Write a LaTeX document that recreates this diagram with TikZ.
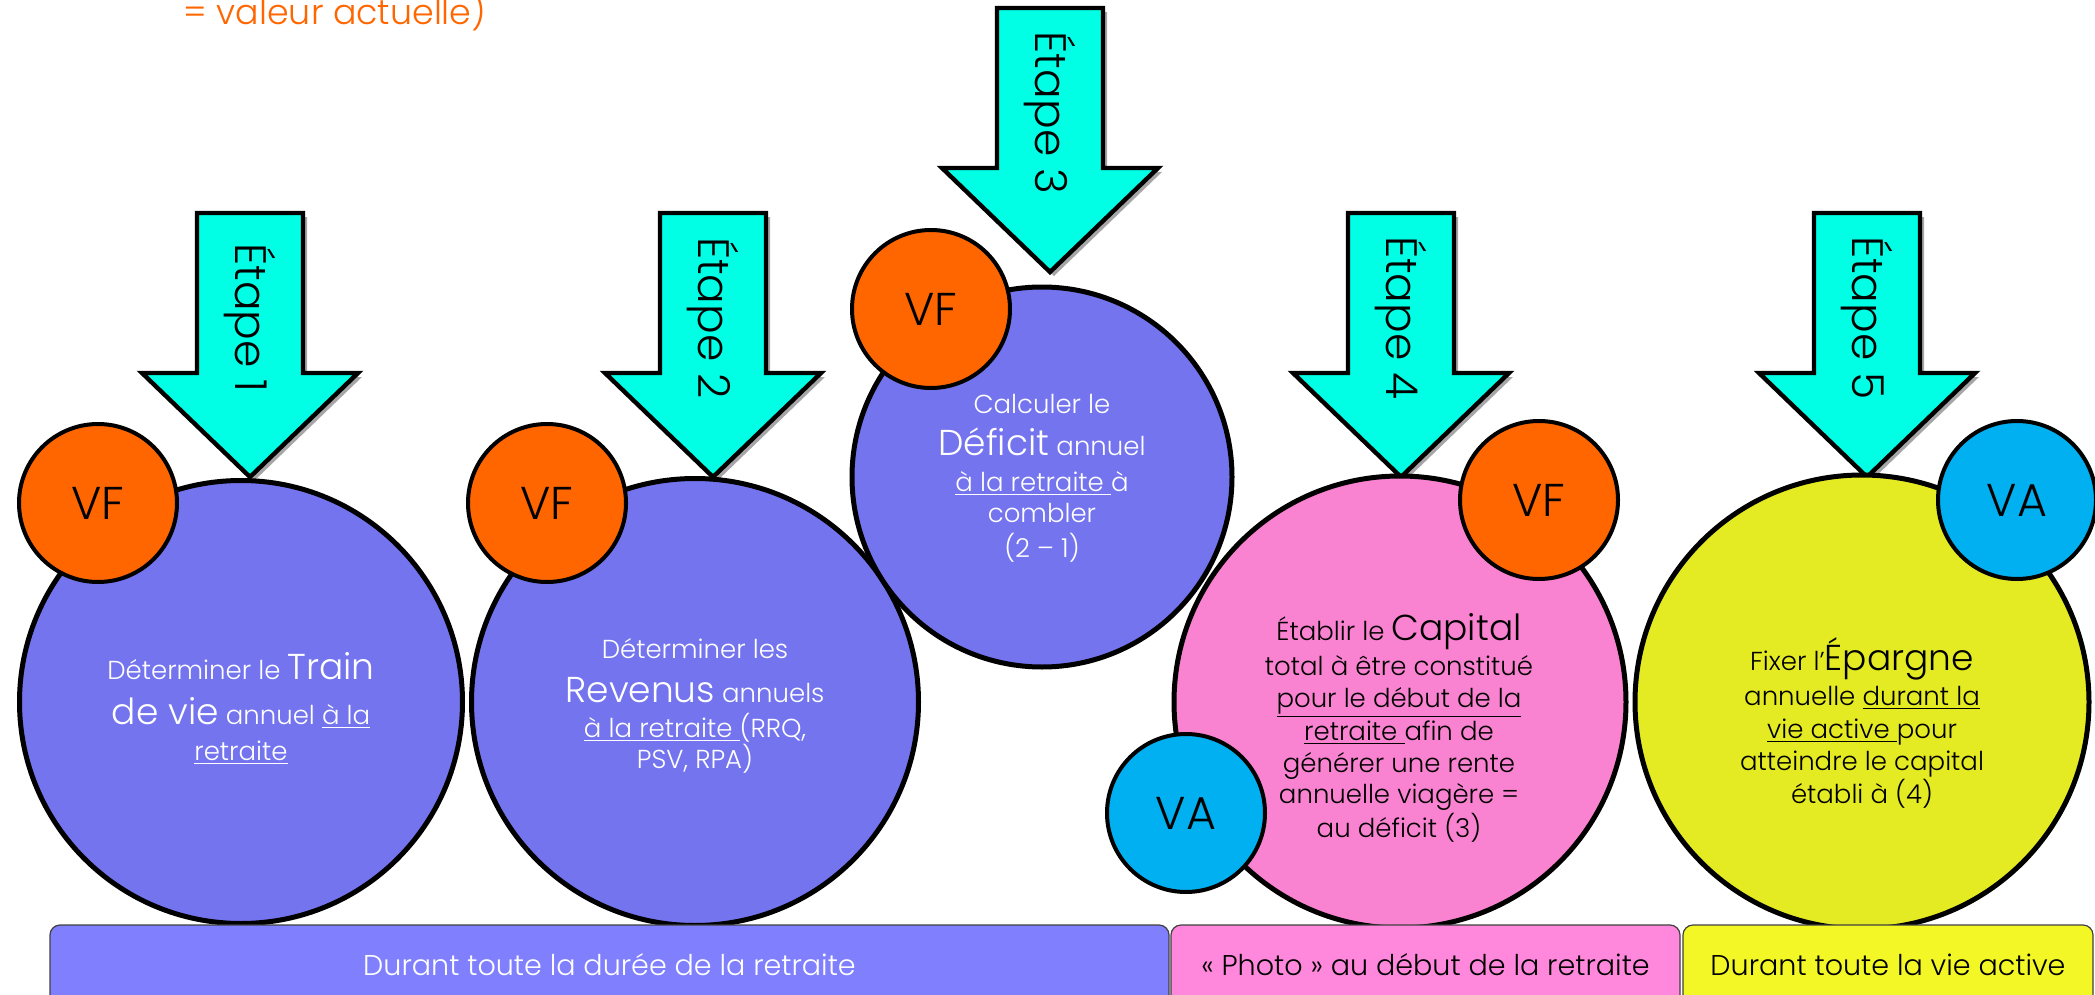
\documentclass[tikz,border=0pt]{standalone}
\usepackage{fontspec}
\setmainfont{Poppins}[UprightFont=* Light]
\definecolor{cblue}{HTML}{7474EE}
\definecolor{cbar1}{HTML}{8080FF}
\definecolor{corange}{HTML}{FF6600}
\definecolor{ccyan}{HTML}{00FFE5}
\definecolor{cpink}{HTML}{F982D1}
\definecolor{cbar2}{HTML}{FF88DD}
\definecolor{cyel}{HTML}{E5EB22}
\definecolor{cbar3}{HTML}{F2F725}
\definecolor{cva}{HTML}{00B0F0}
\tikzset{
 bigc/.style={circle, draw=black, line width=2.5pt, inner sep=0pt},
 tagc/.style={circle, draw=black, line width=2pt, inner sep=0pt, minimum size=79pt, font=\fontsize{23}{25}\selectfont},
 vf/.style={tagc, fill=corange},
 va/.style={tagc, fill=cva},
 ln/.style={anchor=base, inner sep=0pt, font=\fontsize{13}{15}\selectfont},
 lnw/.style={ln, text=white},
 arrowbox/.style={draw=black, line width=2.2pt, fill=ccyan, line join=miter},
 arrowshadow/.style={fill=black!35},
 steplabel/.style={rotate=-90, font=\fontsize{22}{24}\selectfont, inner sep=0pt},
 barbox/.style={draw=black!75, line width=0.6pt, rounded corners=5pt, inner sep=0pt, minimum height=42.5pt},
 bartext/.style={anchor=base, inner sep=0pt, font=\fontsize{14.3}{16}\selectfont},
}
\newcommand\BigF{\fontsize{18}{20}\selectfont}
\newcommand\StepArrow[4]{%
 \begin{scope}[shift={(#2,#3)}]
  \fill[arrowshadow] (-49,4) -- (57,4) -- (57,164) -- (112,164) -- (4,268) -- (-104,164) -- (-49,164) -- cycle;
  \draw[arrowbox] (-53,0) -- (53,0) -- (53,160) -- (108,160) -- (0,264) -- (-108,160) -- (-53,160) -- cycle;
  \node[steplabel] (#1) at (0,105) {#4};
 \end{scope}}
\begin{document}
\begin{tikzpicture}[x=0.5pt,y=-0.5pt]
\useasboundingbox (0,0) rectangle (2095,995);
\clip (0,0) rectangle (2095,995);

\node[anchor=base, inner sep=0pt, text=corange, font=\fontsize{17.4}{19}\selectfont] (top) at (335,25) {= valeur actuelle)};

\StepArrow{e1}{250}{213}{Étape 1}
\StepArrow{e2}{713}{213}{Étape 2}
\StepArrow{e3}{1050}{8}{Étape 3}
\StepArrow{e4}{1401}{213}{Étape 4}
\StepArrow{e5}{1867}{213}{Étape 5}

\node[bigc, fill=cblue, minimum size=221.5pt] (c1) at (241,702) {};
\node[bigc, fill=cblue, minimum size=223.5pt] (c2) at (695,702) {};
\node[bigc, fill=cpink, minimum size=226pt] (c4) at (1400,702) {};
\node[bigc, fill=cyel, minimum size=227pt] (c5) at (1862,702) {};
\node[bigc, fill=cblue, minimum size=190pt] (c3) at (1042,477) {};

\node[vf] (vf1) at (98,503) {VF};
\node[vf] (vf2) at (547,503) {VF};
\node[vf] (vf3) at (931,309) {VF};
\node[vf] (vf4) at (1539,500) {VF};
\node[va] (va4) at (1186,813) {VA};
\node[va] (va5) at (2017,500) {VA};

% circle 1
\node[lnw] (c1a) at (241,679) {Déterminer le {\BigF Train}};
\node[lnw] (c1b) at (241,724) {{\BigF de vie} annuel \underline{à la}};
\node[lnw] (c1c) at (241,760) {\underline{retraite}};
% circle 2
\node[lnw] (c2a) at (695,658) {Déterminer les};
\node[lnw] (c2b) at (695,702) {{\BigF Revenus} annuels};
\node[lnw] (c2c) at (695,737) {\underline{à la retraite }(RRQ,};
\node[lnw] (c2d) at (695,768) {PSV, RPA)};
% circle 3
\node[lnw] (c3a) at (1042,413) {Calculer le};
\node[lnw] (c3b) at (1042,455) {{\BigF Déficit} annuel};
\node[lnw] (c3c) at (1042,491) {\underline{à la retraite }à};
\node[lnw] (c3d) at (1042,522) {combler};
\node[lnw] (c3e) at (1042,557) {(2 – 1)};
% circle 4
\node[ln] (c4a) at (1399,640) {Établir le {\BigF Capital}};
\node[ln] (c4b) at (1399,675) {total à être constitué};
\node[ln] (c4c) at (1399,707) {\underline{pour le début de la}};
\node[ln] (c4d) at (1399,740) {\underline{retraite }afin de};
\node[ln] (c4e) at (1399,772) {générer une rente};
\node[ln] (c4f) at (1399,803) {annuelle viagère =};
\node[ln] (c4g) at (1399,837) {au déficit (3)};
% circle 5
\node[ln] (c5a) at (1862,670) {Fixer l’{\BigF Épargne}};
\node[ln] (c5b) at (1862,705) {annuelle \underline{durant la}};
\node[ln] (c5c) at (1862,738) {\underline{vie active }pour};
\node[ln] (c5d) at (1862,770) {atteindre le capital};
\node[ln] (c5e) at (1862,803) {établi à (4)};

% bars
\node[barbox, fill=cbar1, minimum width=559.5pt] (bar1) at (609.5,967.5) {};
\node[barbox, fill=cbar2, minimum width=254.5pt] (bar2) at (1425.5,967.5) {};
\node[barbox, fill=cbar3, minimum width=205pt] (bar3) at (1888,967.5) {};
\node[bartext, text=white] (t1) at (609.5,975) {Durant toute la durée de la retraite};
\node[bartext] (t2) at (1425.5,975) {«~Photo~» au début de la retraite};
\node[bartext] (t3) at (1888,975) {Durant toute la vie active};
\end{tikzpicture}
\end{document}
